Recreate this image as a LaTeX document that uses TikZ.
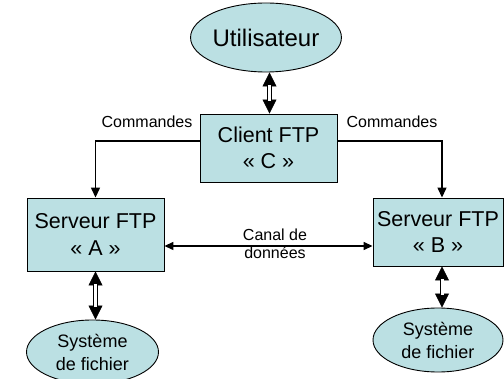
\documentclass[tikz,border=0pt]{standalone}
\usepackage{fontspec}
\setmainfont{Liberation Sans}
\usetikzlibrary{shapes.geometric,arrows.meta}
\definecolor{boxfill}{RGB}{187,224,227}
\tikzset{
  boxnode/.style={draw=black, line width=0.9pt, fill=boxfill, rectangle, align=center, inner sep=0pt},
  ellnode/.style={draw=black, line width=0.9pt, fill=boxfill, ellipse, align=center, inner sep=0pt},
  bigfont/.style={font=\fontsize{21.5}{26.5}\selectfont},
  conn/.style={line width=1.4pt, -{Triangle[width=9pt,length=10pt]}},
  canal/.style={line width=1.4pt, {Triangle[width=8pt,length=9pt]}-{Triangle[width=8pt,length=9pt]}},
  dblhead/.style={line width=0.8pt, {Triangle[width=14pt,length=14pt]}-{Triangle[width=14pt,length=14pt]}},
  dblshaft/.style={double=white, double distance=3pt, line width=0.9pt, shorten <=13pt, shorten >=13pt},
  lbl/.style={font=\fontsize{16}{18}\selectfont, align=center, inner sep=0pt}
}
\begin{document}
\begin{tikzpicture}[x=1pt,y=-1pt]
\useasboundingbox (0,0) rectangle (504,379);
\node[ellnode, minimum width=132, minimum height=69, font=\fontsize{24}{28}\selectfont] (user) at (266,37.5) {Utilisateur};
\node[boxnode, bigfont, minimum width=137, minimum height=68] (client) at (268.5,148) {Client FTP\\« C »};
\node[boxnode, bigfont, minimum width=137, minimum height=73] (A) at (95.5,234.5) {Serveur FTP\\« A »};
\node[boxnode, bigfont, minimum width=130, minimum height=68] (B) at (438,232) {Serveur FTP\\« B »};
\node[ellnode, minimum width=132, minimum height=64, font=\fontsize{18}{23}\selectfont] (sysA) at (92.5,352) {Système\\de fichier};
\node[ellnode, minimum width=130, minimum height=64, font=\fontsize{18}{23}\selectfont] (sysB) at (438,340) {Système\\de fichier};

% double arrows
\coordinate (u1) at ([xshift=1pt]client.north);
\draw[dblhead] (u1 |- user.south) -- (u1);
\draw[dblshaft] (u1 |- user.south) -- (u1);
\coordinate (a1) at (A.south);
\draw[dblhead] (a1) -- (a1 |- sysA.north);
\draw[dblshaft] (a1) -- (a1 |- sysA.north);
\coordinate (b1) at ([xshift=4pt]B.south);
\draw[dblhead] (b1) -- (b1 |- sysB.north);
\draw[dblshaft] (b1) -- (b1 |- sysB.north);

% commandes
\draw[conn] ([yshift=7pt]client.west) -| (A.north);
\coordinate (bn) at ([xshift=4pt]B.north);
\draw[conn] ([yshift=7pt]client.east) -| (bn);
\node[lbl] (cmdL) at (147,122) {Commandes};
\node[lbl] (cmdR) at (392,122) {Commandes};

% canal
\coordinate (ca) at ([yshift=-11.5pt]A.east);
\draw[canal] (ca) -- (ca -| B.west);
\node[lbl] (canal) at (275,244) {Canal de\\données};
\end{tikzpicture}
\end{document}
